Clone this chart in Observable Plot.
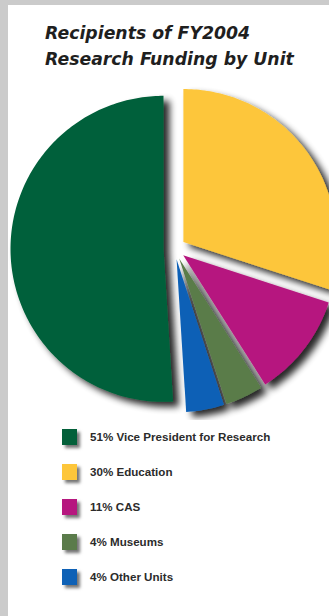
<!DOCTYPE html>
<html>
<head>
<meta charset="utf-8">
<script src="https://cdn.jsdelivr.net/npm/d3@7"></script>
<script src="https://cdn.jsdelivr.net/npm/@observablehq/plot@0.6"></script>
<style>
  html, body { margin: 0; padding: 0; background: #fff; }
  #page { position: relative; width: 329px; height: 616px; background: #fff; overflow: hidden; }
  #bl { position: absolute; left: 0; top: 0; width: 8px; height: 616px; background: #cbcbcb; }
  #bt { position: absolute; left: 0; top: 0; width: 329px; height: 5px; background: #cbcbcb; }
  #title { position: absolute; left: 45px; top: 20px; font-family: "DejaVu Sans", "Liberation Sans", sans-serif;
           font-weight: bold; font-style: italic; font-size: 17.3px; line-height: 26px; color: #1f1f1f; }
  #chart { position: absolute; left: 0; top: 80px; }
  #legend { position: absolute; left: 62px; top: 429px; font-family: "Liberation Sans", Arial, sans-serif; }
  .row { position: relative; height: 35px; }
  .sw { position: absolute; left: 0; top: 0; width: 15px; height: 16px; box-shadow: 3px 3px 3px rgba(0,0,0,0.55); }
  .lt { position: absolute; left: 28px; top: 0; line-height: 16px; font-size: 11.6px; font-weight: bold; color: #2b2b2b; white-space: nowrap; }
</style>
</head>
<body>
<div id="page">
  <div id="bl"></div><div id="bt"></div>
  <div id="title">Recipients of FY2004<br>Research Funding by Unit</div>
  <div id="chart"></div>
  <div id="legend"></div>
</div>
<script>
// ---- data ----
const units = ["Vice President for Research", "Education", "CAS", "Museums", "Other Units"];
const shares = [51, 30, 11, 4, 4];
const shareLabels = ["51%", "30%", "11%", "4%", "4%"];

// ---- style / layout ----
const palette = ["#03603a", "#fdc63a", "#b6177f", "#5a7b4a", "#0e61b6"];
const W = 329, H = 340;            // svg size
const cx = 174, cy = 168, r = 153; // pie centre / radius in svg pixels
const explode = 11;                // px

// build slice polygons in unit coordinates (y up), angles clockwise from north
const total = d3.sum(shares);
const start0 = -shares[0] / total * 2 * Math.PI;
let acc = start0;
const pts = [];
units.forEach((u, i) => {
  const a0 = acc, a1 = acc + shares[i] / total * 2 * Math.PI;
  acc = a1;
  const mid = (a0 + a1) / 2, e = explode / r;
  const ox = e * Math.sin(mid), oy = e * Math.cos(mid);
  pts.push({unit: u, x: ox, y: oy});
  const n = Math.max(2, Math.ceil((a1 - a0) / (Math.PI / 180)));
  for (let k = 0; k <= n; k++) {
    const a = a0 + (a1 - a0) * k / n;
    pts.push({unit: u, x: ox + Math.sin(a), y: oy + Math.cos(a)});
  }
});

const plot = Plot.plot({
  width: W, height: H,
  margin: 0,
  x: {domain: [-cx / r, (W - cx) / r], range: [0, W], axis: null},
  y: {domain: [-(H - cy) / r, cy / r], range: [H, 0], axis: null},
  color: {domain: units, range: palette},
  style: {background: "transparent"},
  marks: [
    Plot.line(pts, {x: "x", y: "y", z: "unit", fill: "unit", stroke: null, curve: "linear-closed"})
  ]
});
plot.style.overflow = "hidden";
document.getElementById("chart").appendChild(plot);

// drop shadow
const svg = d3.select(plot);
const f = svg.insert("defs", ":first-child").append("filter")
  .attr("id", "ds").attr("x", "-20%").attr("y", "-20%").attr("width", "150%").attr("height", "150%");
f.append("feGaussianBlur").attr("in", "SourceAlpha").attr("stdDeviation", 3.5);
f.append("feOffset").attr("dx", 6).attr("dy", 5).attr("result", "b");
f.append("feComponentTransfer").append("feFuncA").attr("type", "linear").attr("slope", 0.85);
const m = f.append("feMerge");
m.append("feMergeNode");
m.append("feMergeNode").attr("in", "SourceGraphic");
svg.selectAll("g[aria-label=line]").attr("filter", "url(#ds)");

// legend
const leg = d3.select("#legend");
units.forEach((u, i) => {
  const row = leg.append("div").attr("class", "row");
  row.append("div").attr("class", "sw").style("background", palette[i]);
  row.append("div").attr("class", "lt").text(shareLabels[i] + " " + u);
});
</script>
</body>
</html>
